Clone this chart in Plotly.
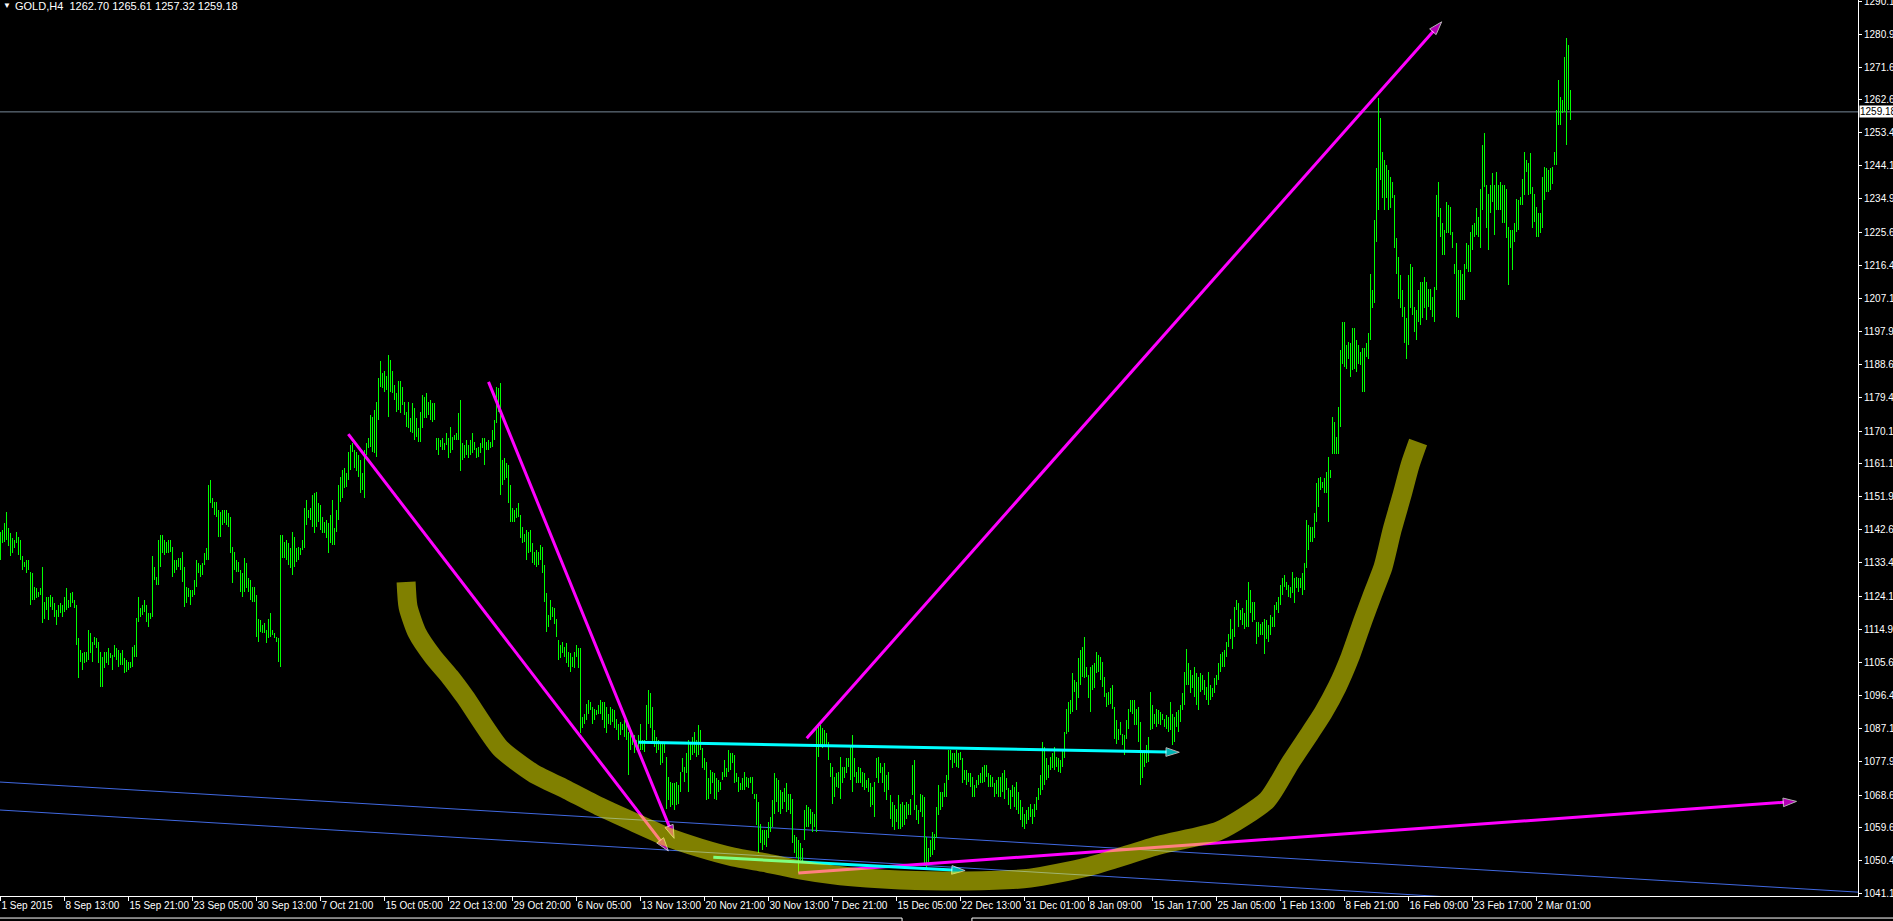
import plotly.graph_objects as go

# GOLD H4 bars, one value pair per bar (bar index 0 = 1 Sep 2015)
highs = [
    1142.1, 1142.6, 1144.4, 1147.7, 1143.1, 1141.7, 1140.3, 1139.8, 1142.1, 1140.7,
    1139.8, 1135.2, 1133.8, 1134.2, 1134.2, 1131.0, 1130.5, 1126.8, 1126.3, 1125.4,
    1126.3, 1132.4, 1122.6, 1124.0, 1124.0, 1124.5, 1124.0, 1122.1, 1120.3, 1121.7,
    1122.1, 1121.7, 1124.0, 1126.3, 1123.1, 1124.9, 1125.4, 1123.1, 1121.7, 1112.4,
    1109.1, 1108.2, 1108.6, 1108.6, 1114.7, 1113.8, 1111.4, 1112.8, 1112.4, 1111.4,
    1108.6, 1107.2, 1108.6, 1108.6, 1109.6, 1108.2, 1107.7, 1110.5, 1109.6, 1109.1,
    1108.2, 1109.1, 1106.8, 1106.3, 1105.9, 1105.9, 1110.0, 1110.5, 1118.0, 1124.0,
    1120.7, 1121.7, 1123.1, 1121.7, 1119.3, 1119.3, 1135.2, 1132.4, 1129.6, 1139.8,
    1141.2, 1141.2, 1139.8, 1139.3, 1139.8, 1139.8, 1137.9, 1134.2, 1134.2, 1134.7,
    1134.7, 1136.5, 1132.4, 1126.8, 1126.3, 1125.9, 1125.9, 1128.6, 1134.2, 1133.3,
    1132.8, 1133.3, 1136.1, 1137.5, 1155.1, 1156.5, 1151.4, 1150.5, 1150.5, 1148.2,
    1147.7, 1148.2, 1148.2, 1148.2, 1147.2, 1146.3, 1137.9, 1136.5, 1134.2, 1133.8,
    1131.4, 1130.5, 1134.7, 1133.3, 1129.1, 1128.6, 1126.8, 1126.8, 1124.5, 1117.9,
    1117.5, 1116.1, 1116.6, 1114.7, 1117.9, 1119.3, 1114.7, 1113.8, 1112.8, 1112.4,
    1141.2, 1141.2, 1139.3, 1139.8, 1138.9, 1137.5, 1142.1, 1140.7, 1137.5, 1137.9,
    1137.5, 1139.8, 1148.6, 1151.0, 1148.2, 1148.6, 1152.4, 1152.8, 1153.3, 1150.0,
    1149.6, 1146.3, 1144.9, 1145.4, 1144.4, 1146.8, 1151.0, 1143.1, 1148.2, 1155.1,
    1157.5, 1159.3, 1159.8, 1158.4, 1164.4, 1166.3, 1166.8, 1164.9, 1164.4, 1163.5,
    1162.1, 1158.4, 1164.9, 1166.8, 1168.2, 1174.7, 1174.2, 1176.1, 1178.4, 1184.9,
    1189.6, 1186.3, 1186.8, 1185.4, 1191.4, 1190.0, 1186.8, 1183.0, 1180.7, 1184.0,
    1184.0, 1182.6, 1178.4, 1175.6, 1178.4, 1173.7, 1177.9, 1176.5, 1173.7, 1171.0,
    1175.6, 1180.3, 1179.8, 1180.7, 1178.4, 1178.9, 1177.9, 1177.9, 1168.2, 1168.2,
    1167.7, 1168.2, 1166.8, 1169.6, 1168.2, 1171.4, 1168.6, 1169.1, 1169.6, 1175.2,
    1178.9, 1166.8, 1166.3, 1167.7, 1166.3, 1167.7, 1169.6, 1167.2, 1165.4, 1165.8,
    1166.8, 1168.2, 1168.2, 1167.2, 1167.7, 1167.2, 1170.5, 1173.3, 1182.6, 1182.1,
    1183.5, 1162.1, 1162.6, 1161.2, 1160.7, 1155.1, 1148.6, 1148.2, 1148.6, 1150.0,
    1146.8, 1143.5, 1141.6, 1142.6, 1142.1, 1142.6, 1138.9, 1136.5, 1137.0, 1136.5,
    1138.4, 1137.9, 1132.8, 1124.9, 1118.9, 1123.1, 1121.2, 1120.7, 1117.9, 1111.9,
    1110.5, 1111.4, 1110.0, 1111.0, 1108.6, 1108.2, 1107.2, 1108.6, 1110.5, 1109.6,
    1109.6, 1090.5, 1091.4, 1094.2, 1095.1, 1094.7, 1093.3, 1092.8, 1092.4, 1093.8,
    1095.1, 1094.7, 1094.7, 1093.3, 1091.4, 1093.3, 1092.8, 1092.4, 1090.0, 1088.6,
    1089.1, 1088.6, 1089.6, 1089.6, 1086.3, 1086.8, 1085.9, 1085.4, 1084.0, 1085.4,
    1088.6, 1084.0, 1084.0, 1093.8, 1097.9, 1097.0, 1093.3, 1086.8, 1084.9, 1084.0,
    1083.1, 1083.5, 1083.1, 1079.3, 1073.8, 1072.4, 1071.9, 1071.9, 1072.4, 1071.4,
    1075.2, 1078.9, 1076.6, 1080.3, 1084.0, 1083.5, 1084.9, 1086.3, 1084.0, 1088.2,
    1086.8, 1081.7, 1078.9, 1078.0, 1073.3, 1075.6, 1075.2, 1074.7, 1073.3, 1072.8,
    1072.4, 1075.2, 1078.4, 1076.1, 1081.2, 1080.3, 1080.3, 1079.8, 1074.7, 1073.8,
    1071.9, 1073.3, 1075.2, 1073.8, 1073.3, 1073.8, 1073.8, 1069.1, 1069.1, 1066.8,
    1060.7, 1058.9, 1058.9, 1058.9, 1061.2, 1062.6, 1067.3, 1074.7, 1073.3, 1072.8,
    1070.0, 1069.6, 1070.5, 1071.9, 1069.1, 1069.1, 1067.7, 1057.5, 1057.0, 1056.1,
    1055.2, 1053.8, 1064.5, 1065.9, 1065.4, 1064.9, 1064.0, 1063.5, 1087.7, 1088.6,
    1088.2, 1087.3, 1086.8, 1085.9, 1083.5, 1077.5, 1076.6, 1073.8, 1074.7, 1075.2,
    1079.3, 1076.6, 1076.6, 1078.9, 1078.9, 1082.1, 1085.4, 1078.9, 1075.2, 1076.6,
    1076.1, 1075.2, 1074.7, 1072.8, 1073.3, 1071.9, 1071.0, 1072.4, 1078.9, 1079.3,
    1077.5, 1076.6, 1077.5, 1074.2, 1075.2, 1068.6, 1066.8, 1065.9, 1064.9, 1068.6,
    1066.3, 1066.8, 1065.9, 1066.8, 1066.3, 1067.7, 1077.0, 1078.4, 1065.9, 1064.5,
    1069.1, 1068.6, 1068.2, 1057.0, 1053.8, 1056.1, 1058.4, 1057.9, 1065.4, 1071.4,
    1069.6, 1069.6, 1071.9, 1074.2, 1081.2, 1081.2, 1080.3, 1080.3, 1081.2, 1080.3,
    1080.7, 1078.9, 1075.6, 1075.6, 1074.7, 1074.7, 1073.8, 1071.4, 1072.8, 1074.2,
    1074.7, 1076.6, 1077.0, 1077.0, 1074.7, 1074.2, 1073.8, 1071.9, 1072.8, 1073.8,
    1073.7, 1074.7, 1075.6, 1073.3, 1070.5, 1070.0, 1071.4, 1071.0, 1072.3, 1069.5,
    1067.2, 1065.4, 1063.5, 1064.5, 1065.4, 1066.3, 1064.9, 1066.3, 1068.2, 1070.5,
    1074.2, 1083.5, 1082.1, 1078.9, 1077.0, 1079.3, 1080.3, 1082.1, 1079.3, 1078.9,
    1078.4, 1081.2, 1086.3, 1092.8, 1094.7, 1095.1, 1102.6, 1100.7, 1100.3, 1106.8,
    1109.1, 1110.0, 1112.8, 1104.4, 1102.1, 1104.4, 1104.9, 1105.4, 1108.6, 1107.7,
    1107.2, 1105.8, 1101.6, 1097.0, 1097.5, 1098.4, 1099.3, 1093.3, 1089.6, 1087.2,
    1089.1, 1085.8, 1085.4, 1089.6, 1092.8, 1095.1, 1095.1, 1095.1, 1092.8, 1093.3,
    1089.1, 1080.3, 1081.2, 1082.6, 1084.9, 1097.5, 1093.7, 1091.4, 1092.8, 1092.3,
    1091.9, 1091.4, 1090.0, 1090.9, 1090.5, 1094.7, 1091.4, 1090.5, 1091.9, 1092.3,
    1093.7, 1097.0, 1103.0, 1109.5, 1105.4, 1103.5, 1102.1, 1104.4, 1102.6, 1101.6,
    1102.6, 1102.1, 1100.7, 1098.8, 1103.0, 1099.3, 1098.4, 1101.2, 1102.1, 1105.4,
    1108.1, 1108.6, 1109.1, 1111.4, 1113.7, 1117.9, 1115.1, 1121.2, 1123.0, 1122.1,
    1120.2, 1120.7, 1119.3, 1123.0, 1128.1, 1125.8, 1122.6, 1122.6, 1117.0, 1117.0,
    1116.5, 1117.0, 1117.9, 1117.4, 1116.1, 1118.8, 1118.4, 1121.6, 1122.6, 1124.0,
    1127.2, 1129.1, 1130.0, 1128.1, 1127.2, 1126.8, 1130.9, 1129.1, 1129.5, 1129.1,
    1129.1, 1130.5, 1133.3, 1145.3, 1143.9, 1143.5, 1143.5, 1147.2, 1155.6, 1157.0,
    1157.4, 1156.0, 1157.0, 1158.8, 1163.0, 1159.3, 1174.2, 1172.8, 1168.6, 1177.0,
    1192.7, 1200.6, 1200.6, 1194.1, 1195.1, 1194.6, 1198.8, 1198.8, 1195.5, 1194.1,
    1192.3, 1193.2, 1193.2, 1194.6, 1197.4, 1214.1, 1209.5, 1229.0, 1243.4, 1263.0,
    1257.4, 1248.1, 1245.7, 1244.3, 1242.9, 1241.1, 1239.7, 1236.0, 1223.9, 1218.8,
    1213.7, 1209.5, 1204.8, 1201.6, 1213.7, 1216.9, 1216.0, 1204.8, 1203.9, 1209.5,
    1211.8, 1211.8, 1213.2, 1211.8, 1209.9, 1209.9, 1207.6, 1210.4, 1236.0, 1239.7,
    1232.3, 1228.1, 1226.2, 1234.1, 1233.2, 1232.7, 1225.7, 1216.9, 1222.5, 1215.1,
    1215.1, 1214.1, 1216.9, 1222.5, 1222.0, 1225.7, 1227.6, 1228.1, 1232.3, 1229.9,
    1237.8, 1249.9, 1253.2, 1238.8, 1236.4, 1238.8, 1242.0, 1238.8, 1242.5, 1238.8,
    1239.7, 1238.8, 1238.8, 1237.8, 1227.1, 1226.2, 1226.2, 1228.1, 1235.0, 1234.6,
    1235.5, 1240.6, 1248.1, 1245.7, 1244.8, 1247.6, 1238.3, 1236.4, 1232.7, 1230.9,
    1230.9, 1241.1, 1243.9, 1243.4, 1243.0, 1243.4, 1243.9, 1248.1, 1259.7, 1268.1,
    1263.4, 1262.5, 1274.6, 1279.7, 1277.8, 1265.3,
]
lows = [
    1134.2, 1138.9, 1139.3, 1139.8, 1138.0, 1135.2, 1136.1, 1137.5, 1138.9, 1135.6,
    1134.2, 1131.4, 1132.4, 1130.5, 1131.4, 1121.7, 1123.1, 1123.1, 1123.5, 1124.0,
    1124.5, 1116.6, 1117.9, 1120.3, 1117.5, 1121.2, 1120.3, 1118.4, 1116.1, 1118.4,
    1119.3, 1118.4, 1119.8, 1120.3, 1120.7, 1121.2, 1122.1, 1120.7, 1110.5, 1101.2,
    1105.9, 1103.5, 1105.4, 1105.9, 1106.3, 1108.2, 1105.9, 1110.5, 1109.6, 1105.4,
    1098.9, 1098.9, 1104.0, 1105.4, 1104.9, 1106.8, 1103.5, 1107.2, 1106.3, 1104.5,
    1104.9, 1104.9, 1102.6, 1103.1, 1103.5, 1104.0, 1104.5, 1107.2, 1107.2, 1117.0,
    1118.4, 1118.9, 1119.8, 1117.0, 1115.6, 1117.9, 1118.4, 1128.6, 1127.2, 1127.2,
    1132.4, 1136.1, 1135.6, 1136.1, 1136.1, 1136.5, 1129.6, 1130.5, 1131.4, 1132.4,
    1131.4, 1128.2, 1121.2, 1122.1, 1124.0, 1121.7, 1124.0, 1124.5, 1126.8, 1130.5,
    1129.6, 1130.0, 1132.8, 1134.2, 1134.2, 1150.0, 1148.6, 1146.8, 1146.3, 1140.7,
    1140.7, 1144.0, 1144.5, 1144.0, 1143.5, 1136.1, 1127.7, 1131.4, 1131.0, 1131.0,
    1125.4, 1124.0, 1125.4, 1126.3, 1125.4, 1123.1, 1122.6, 1122.6, 1112.8, 1111.4,
    1114.2, 1113.8, 1113.8, 1111.0, 1112.4, 1112.8, 1113.3, 1112.4, 1111.4, 1105.9,
    1104.5, 1134.7, 1134.7, 1134.2, 1132.8, 1131.9, 1130.0, 1132.4, 1133.8, 1134.2,
    1135.6, 1137.0, 1137.5, 1144.0, 1145.9, 1145.4, 1143.5, 1141.7, 1143.5, 1144.9,
    1142.6, 1141.7, 1141.7, 1140.3, 1136.1, 1138.9, 1138.4, 1138.4, 1142.1, 1145.4,
    1150.5, 1151.4, 1154.2, 1154.7, 1156.5, 1159.3, 1164.4, 1159.8, 1158.9, 1157.5,
    1152.8, 1153.7, 1151.4, 1163.5, 1165.4, 1165.8, 1164.4, 1164.0, 1163.0, 1173.3,
    1182.6, 1182.1, 1181.2, 1181.7, 1174.2, 1181.2, 1180.7, 1178.9, 1175.6, 1176.1,
    1175.2, 1177.5, 1174.7, 1171.4, 1171.0, 1170.0, 1169.6, 1167.7, 1168.6, 1167.2,
    1167.2, 1171.0, 1173.7, 1173.7, 1174.7, 1173.3, 1172.8, 1173.3, 1164.9, 1163.5,
    1165.8, 1164.9, 1164.9, 1166.3, 1162.6, 1164.0, 1164.9, 1167.7, 1167.7, 1167.7,
    1158.9, 1162.1, 1162.6, 1163.5, 1162.6, 1163.5, 1164.0, 1164.9, 1162.6, 1163.0,
    1164.0, 1165.4, 1160.7, 1164.9, 1164.9, 1165.4, 1165.8, 1167.7, 1172.4, 1175.6,
    1152.4, 1155.1, 1156.5, 1157.0, 1150.0, 1144.9, 1144.9, 1144.9, 1145.9, 1146.3,
    1140.3, 1138.9, 1139.3, 1134.2, 1136.1, 1136.5, 1133.3, 1132.8, 1132.4, 1132.8,
    1134.2, 1130.5, 1122.6, 1114.2, 1115.6, 1117.5, 1118.4, 1116.5, 1112.8, 1106.3,
    1106.8, 1108.2, 1107.2, 1105.4, 1104.5, 1103.1, 1104.5, 1104.0, 1107.2, 1104.0,
    1085.9, 1087.3, 1088.6, 1089.6, 1091.4, 1092.4, 1088.6, 1089.6, 1091.0, 1091.4,
    1091.4, 1089.6, 1087.3, 1085.9, 1088.6, 1088.2, 1089.1, 1087.3, 1086.8, 1084.0,
    1085.4, 1086.8, 1084.9, 1084.0, 1074.2, 1081.2, 1082.6, 1080.3, 1081.2, 1081.2,
    1081.2, 1081.2, 1080.7, 1084.0, 1088.6, 1087.3, 1083.1, 1082.1, 1080.3, 1081.2,
    1077.0, 1077.5, 1080.3, 1064.9, 1067.3, 1065.4, 1065.9, 1064.5, 1065.9, 1066.3,
    1069.6, 1075.2, 1072.4, 1074.7, 1069.6, 1078.4, 1079.8, 1080.3, 1079.3, 1079.8,
    1081.2, 1076.1, 1075.6, 1067.3, 1067.7, 1069.1, 1071.9, 1067.7, 1067.3, 1069.6,
    1070.0, 1072.8, 1073.8, 1073.8, 1075.2, 1075.6, 1077.5, 1071.9, 1072.4, 1069.6,
    1070.0, 1070.0, 1070.0, 1071.0, 1070.5, 1071.9, 1069.1, 1067.7, 1060.3, 1052.4,
    1055.2, 1053.3, 1054.7, 1054.2, 1056.6, 1058.4, 1059.8, 1063.5, 1066.8, 1064.0,
    1063.5, 1064.9, 1066.8, 1064.0, 1064.5, 1063.5, 1055.2, 1052.4, 1051.0, 1046.8,
    1050.5, 1049.6, 1056.1, 1059.8, 1059.8, 1060.7, 1058.4, 1059.8, 1058.4, 1079.3,
    1082.1, 1081.7, 1082.6, 1082.1, 1078.4, 1073.8, 1066.3, 1068.2, 1071.0, 1070.5,
    1067.7, 1071.9, 1073.3, 1074.7, 1076.6, 1072.8, 1069.6, 1073.8, 1071.9, 1071.9,
    1071.9, 1071.0, 1070.0, 1070.5, 1069.6, 1065.4, 1065.9, 1062.6, 1073.3, 1071.9,
    1074.7, 1071.9, 1069.6, 1067.3, 1070.0, 1062.1, 1059.8, 1058.9, 1061.2, 1059.3,
    1059.3, 1059.8, 1060.3, 1062.1, 1063.1, 1063.1, 1068.6, 1064.5, 1061.7, 1060.7,
    1064.0, 1062.6, 1049.6, 1047.7, 1050.1, 1051.4, 1051.9, 1053.3, 1056.6, 1063.1,
    1064.5, 1065.4, 1068.2, 1068.2, 1072.8, 1078.4, 1076.1, 1077.5, 1076.6, 1076.1,
    1078.4, 1071.9, 1072.8, 1071.4, 1072.4, 1071.0, 1068.2, 1068.2, 1070.5, 1071.4,
    1071.9, 1071.9, 1072.4, 1073.8, 1071.0, 1071.0, 1071.0, 1068.2, 1069.1, 1068.2,
    1068.2, 1069.5, 1067.7, 1070.0, 1065.8, 1064.9, 1068.2, 1065.4, 1064.5, 1063.5,
    1061.6, 1059.8, 1059.3, 1060.7, 1061.6, 1062.6, 1060.7, 1062.6, 1064.5, 1067.2,
    1068.6, 1070.0, 1071.4, 1072.8, 1073.3, 1075.6, 1076.1, 1075.6, 1076.5, 1075.1,
    1074.7, 1076.5, 1078.9, 1085.8, 1086.3, 1091.4, 1091.9, 1097.5, 1092.3, 1095.6,
    1099.3, 1101.6, 1101.2, 1101.6, 1095.6, 1091.9, 1097.9, 1098.4, 1102.6, 1103.0,
    1100.7, 1098.8, 1096.1, 1093.3, 1093.7, 1094.2, 1092.8, 1084.4, 1083.0, 1084.0,
    1085.4, 1082.6, 1079.8, 1084.4, 1087.2, 1091.9, 1091.4, 1088.2, 1088.2, 1083.5,
    1071.4, 1073.3, 1076.5, 1077.5, 1077.9, 1086.8, 1087.2, 1088.6, 1087.7, 1088.6,
    1088.2, 1089.5, 1087.7, 1087.2, 1086.3, 1086.8, 1082.6, 1083.5, 1087.7, 1086.3,
    1089.1, 1092.3, 1093.7, 1099.3, 1099.3, 1097.0, 1098.4, 1096.1, 1093.7, 1092.3,
    1097.5, 1097.9, 1096.5, 1095.1, 1093.7, 1095.1, 1096.1, 1097.0, 1099.3, 1100.7,
    1103.0, 1104.4, 1104.4, 1107.2, 1110.0, 1112.3, 1109.5, 1112.8, 1120.2, 1115.6,
    1117.4, 1116.1, 1115.1, 1115.6, 1115.6, 1119.3, 1117.0, 1117.4, 1110.9, 1112.8,
    1113.3, 1113.3, 1108.1, 1112.3, 1111.4, 1113.3, 1115.6, 1115.6, 1120.2, 1119.3,
    1121.6, 1124.4, 1126.8, 1125.8, 1124.0, 1123.5, 1124.9, 1122.1, 1126.3, 1125.4,
    1126.3, 1124.4, 1125.8, 1131.9, 1137.0, 1139.3, 1139.3, 1140.3, 1144.9, 1149.1,
    1153.7, 1154.2, 1152.8, 1152.8, 1144.9, 1157.0, 1163.9, 1163.9, 1163.9, 1163.9,
    1171.4, 1189.0, 1188.1, 1187.6, 1190.4, 1185.3, 1187.2, 1187.6, 1186.7, 1189.0,
    1188.5, 1181.1, 1181.1, 1190.9, 1190.4, 1195.5, 1204.4, 1205.8, 1223.0, 1231.8,
    1240.2, 1235.1, 1231.8, 1235.1, 1231.8, 1232.3, 1235.1, 1221.1, 1214.1, 1207.1,
    1204.4, 1202.0, 1194.6, 1190.4, 1194.1, 1204.4, 1202.5, 1197.8, 1195.5, 1200.6,
    1199.7, 1201.6, 1204.4, 1201.1, 1204.8, 1203.9, 1202.0, 1200.6, 1209.5, 1229.9,
    1224.4, 1219.2, 1219.2, 1225.3, 1225.3, 1224.8, 1221.1, 1214.1, 1202.0, 1201.6,
    1206.7, 1206.7, 1206.7, 1215.5, 1214.6, 1214.6, 1220.6, 1224.4, 1224.8, 1224.4,
    1221.1, 1231.8, 1238.3, 1226.7, 1220.6, 1230.9, 1234.1, 1224.8, 1231.8, 1231.8,
    1231.8, 1228.1, 1228.1, 1223.9, 1210.9, 1221.1, 1215.1, 1223.0, 1225.7, 1226.2,
    1233.2, 1233.2, 1236.0, 1242.5, 1236.0, 1236.4, 1226.7, 1228.5, 1224.4, 1224.4,
    1225.3, 1226.7, 1234.6, 1236.9, 1236.9, 1237.4, 1239.2, 1244.3, 1244.3, 1255.5,
    1255.5, 1258.8, 1259.2, 1249.9, 1259.7, 1256.9,
]

last_bid = 1259.18
header = "GOLD,H4\u00a0\u00a01262.70 1265.61 1257.32 1259.18"

# time scale labels, one every 32 bars
x_tick_bars = list(range(0, 800, 32))
x_tick_labels = [
    "1 Sep 2015", "8 Sep 13:00", "15 Sep 21:00", "23 Sep 05:00", "30 Sep 13:00",
    "7 Oct 21:00", "15 Oct 05:00", "22 Oct 13:00", "29 Oct 20:00", "6 Nov 05:00",
    "13 Nov 13:00", "20 Nov 21:00", "30 Nov 13:00", "7 Dec 21:00", "15 Dec 05:00",
    "22 Dec 13:00", "31 Dec 01:00", "8 Jan 09:00", "15 Jan 17:00", "25 Jan 05:00",
    "1 Feb 13:00", "8 Feb 21:00", "16 Feb 09:00", "23 Feb 17:00", "2 Mar 01:00",
]
y_tick_vals = [
    1290.1, 1280.9, 1271.6, 1262.6, 1253.4, 1244.1, 1234.9, 1225.6, 1216.4, 1207.1,
    1197.9, 1188.6, 1179.4, 1170.1, 1161.1, 1151.9, 1142.6, 1133.4, 1124.1, 1114.9,
    1105.6, 1096.4, 1087.1, 1077.9, 1068.6, 1059.6, 1050.4, 1041.1,
]

# drawn objects, in (bar, price)
magenta_arrows = [
    ((173.9, 1169.3), (333.9, 1053.1)),
    ((244.0, 1183.9), (336.8, 1056.6)),
    ((403.1, 1084.5), (720.6, 1284.3)),
    ((398.9, 1046.9), (898.0, 1066.9)),
]
cyan_arrows = [
    ((318.9, 1083.4), (589.4, 1080.6)),
    ((356.4, 1051.3), (482.3, 1047.6)),
]
channel_bars = [-0.25, 928.75]
channel_upper = [1072.3, 1041.6]
channel_lower = [1064.5, 1033.4]

band_bars = [
    202.8, 203.8, 208.3, 216.3, 224.8, 232.3, 249.8, 266.3, 283.3, 299.8,
    316.3, 333.3, 349.8, 366.3, 383.3, 399.8, 416.3, 433.3, 449.8, 482.8,
    514.8, 543.3, 579.3, 609.3, 633.3, 644.8, 654.8, 661.3, 668.3, 674.8,
    681.3, 686.3, 691.3, 695.8, 700.8, 704.8, 708.8,
]
band_prices = [
    1128.1, 1121.1, 1113.9, 1107.2, 1101.6, 1096.0, 1081.8, 1074.8, 1070.1, 1065.4,
    1061.2, 1057.0, 1053.9, 1051.4, 1049.7, 1047.8, 1046.4, 1045.5, 1045.0, 1044.7,
    1045.5, 1048.6, 1054.7, 1058.7, 1067.3, 1077.6, 1086.0, 1091.6, 1098.8, 1107.2,
    1117.5, 1125.0, 1132.3, 1142.6, 1152.4, 1160.7, 1167.1,
]

FONT = "Liberation Sans"
fig = go.Figure()

for ys in [channel_upper, channel_lower]:
    fig.add_trace(go.Scatter(x=channel_bars, y=ys, mode="lines",
                             line=dict(color="#4169E1", width=1), hoverinfo="skip"))

fig.add_trace(go.Scatter(x=channel_bars, y=[last_bid, last_bid], mode="lines",
                         line=dict(color="#778899", width=1), hoverinfo="skip"))

bx, by = [], []
for i, (h, l) in enumerate(zip(highs, lows)):
    bx += [i, i, None]
    by += [l, h, None]
fig.add_trace(go.Scatter(x=bx, y=by, mode="lines",
                         line=dict(color="#00FF00", width=1), hoverinfo="skip"))

for color, arrows in [("#FF00FF", magenta_arrows), ("#00FFFF", cyan_arrows)]:
    for (x0, y0), (x1, y1) in arrows:
        fig.add_trace(go.Scatter(
            x=[x0, x1], y=[y0, y1], mode="lines+markers",
            line=dict(color=color, width=3),
            marker=dict(symbol="arrow", size=[0, 14], angleref="previous", color=color),
            hoverinfo="skip"))

fig.add_trace(go.Scatter(x=band_bars, y=band_prices, mode="lines",
                         line=dict(color="rgba(255,255,0,0.5)", width=19, shape="spline",
                                   smoothing=0.6),
                         hoverinfo="skip"))

fig.add_annotation(xref="paper", yref="paper", x=0, y=1, xanchor="left", yanchor="top",
                   text="\u25bc", showarrow=False, xshift=1, yshift=1,
                   font=dict(family=FONT, size=8, color="white"))
fig.add_annotation(xref="paper", yref="paper", x=0, y=1, xanchor="left", yanchor="top",
                   text=header, showarrow=False, xshift=13, yshift=2,
                   font=dict(family=FONT, size=11, color="white"))
fig.add_annotation(xref="paper", yref="y", x=1, y=last_bid, xanchor="left",
                   text="1259.18", showarrow=False, xshift=1, bgcolor="white", borderpad=0,
                   font=dict(family=FONT, size=10, color="black"))

# terminal window frame under the time scale
for x0, x1 in [(0, 0.4855), (0.5231, 1.02)]:
    fig.add_shape(type="line", xref="paper", yref="paper", x0=x0, x1=x1,
                  y0=-0.0246, y1=-0.0246, line=dict(color="white", width=1))
for xv in [0.4855, 0.5231]:
    fig.add_shape(type="line", xref="paper", yref="paper", x0=xv, x1=xv,
                  y0=-0.0246, y1=-0.03, line=dict(color="white", width=1))

fig.update_layout(
    width=1893, height=921,
    margin=dict(l=0, r=35, t=0, b=25),
    paper_bgcolor="black", plot_bgcolor="black",
    showlegend=False,
    font=dict(family=FONT, size=10, color="white"),
    xaxis=dict(range=[-0.25, 928.75], showgrid=False, zeroline=False,
               showline=True, linecolor="white", linewidth=1,
               ticks="outside", ticklen=4, tickcolor="white", tickangle=0,
               tickvals=x_tick_bars, ticktext=x_tick_labels,
               ticklabelposition="outside right", automargin=False,
               tickfont=dict(family=FONT, size=10, color="white")),
    yaxis=dict(range=[1040.52, 1290.38], side="right", showgrid=False, zeroline=False,
               showline=True, linecolor="white", linewidth=1,
               ticks="outside", ticklen=3, tickcolor="white",
               tickvals=y_tick_vals, ticktext=[f"{v:.1f}" for v in y_tick_vals],
               ticklabeloverflow="allow", automargin=False,
               tickfont=dict(family=FONT, size=10, color="white")),
)

page_js = (
    "document.body.style.margin='0';document.body.style.overflow='hidden';"
    "document.querySelectorAll('.scatterlayer path.js-line').forEach(function(p){"
    "if(p.style.stroke==='rgb(0, 255, 0)'){p.style.shapeRendering='crispEdges';}});"
)
fig.write_html("out.html", config={"displayModeBar": False}, post_script=page_js)
